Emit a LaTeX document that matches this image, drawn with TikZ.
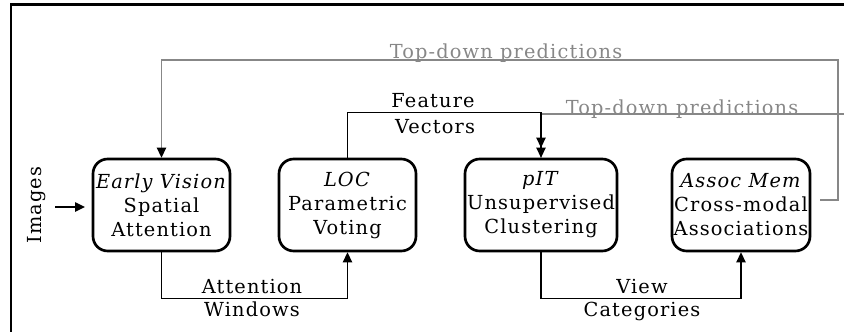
\documentclass[tikz,border=0pt]{standalone}
\usepackage{fontspec}
\setmainfont{DejaVu Serif}[LetterSpace=6]
\usetikzlibrary{arrows.meta}
\definecolor{tdgray}{RGB}{135,135,135}
\begin{document}
\begin{tikzpicture}[x=0.75pt,y=-0.75pt,
  font=\fontsize{14.5}{18}\selectfont,
  box/.style={draw, line width=2pt, rounded corners=11pt, minimum height=69pt, align=center, inner sep=0pt},
  conn/.style={line width=1.1pt},
  tip/.style={-{Triangle[length=7.5pt,width=7pt]}},
  gline/.style={draw=tdgray, line width=1.1pt},
  glabel/.style={text=tdgray, anchor=base, inner sep=0pt},
  lab/.style={anchor=base, inner sep=0pt}]
\useasboundingbox (0,0) rectangle (844,332);
\draw[line width=2pt] (11,332) -- (11,4.5) -- (844,4.5);
\node[box, minimum width=102.75pt] (ev) at (161.5,205) {\textit{Early Vision}\\Spatial\\Attention};
\node[box, minimum width=102.75pt] (loc) at (347.5,205) {\textit{LOC}\\Parametric\\Voting};
\node[box, minimum width=114pt] (pit) at (541,205) {\textit{pIT}\\Unsupervised\\Clustering};
\node[box, minimum width=103.5pt] (am) at (741,205) {\textit{Assoc Mem}\\Cross-modal\\Associations};
\node[rotate=90, inner sep=0pt] (img) at (37,205) {Images};
\coordinate (imgs) at (55,207);
\draw[conn,tip] (imgs) -- ([xshift=-5pt,yshift=-1.5pt]ev.west);
% top-down loop
\coordinate (stub) at (820,200);
\coordinate (rc) at (838,200);
\draw[gline, -{Triangle[length=7.5pt,width=7pt,color=black]}] (stub) -- (rc) -- (838,60) -| (ev.north);
\node[glabel] (td1) at (506,59) {Top-down predictions};
\coordinate (tdr) at (844,114);
\draw[gline] (tdr) -| (pit.north);
\node[glabel] (td2) at (682,114) {Top-down predictions};
% feature vectors
\draw[conn, -{Triangle[length=7.5pt,width=7pt] Triangle[length=7.5pt,width=7pt]}] (loc.north) -- ++(0,-45) -| (pit.north);
\node[lab] (fv1) at (433,108) {Feature};
\node[lab] (fv2) at (435,133) {Vectors};
% attention windows
\draw[conn,tip] (ev.south) -- ++(0,46) -| (loc.south);
\node[lab] (aw1) at (252,293) {Attention};
\node[lab] (aw2) at (252,316) {Windows};
% view categories
\draw[conn,tip] (pit.south) -- ++(0,46) -| (am.south);
\node[lab] (vc1) at (642,293) {View};
\node[lab] (vc2) at (642,316) {Categories};
\end{tikzpicture}
\end{document}
